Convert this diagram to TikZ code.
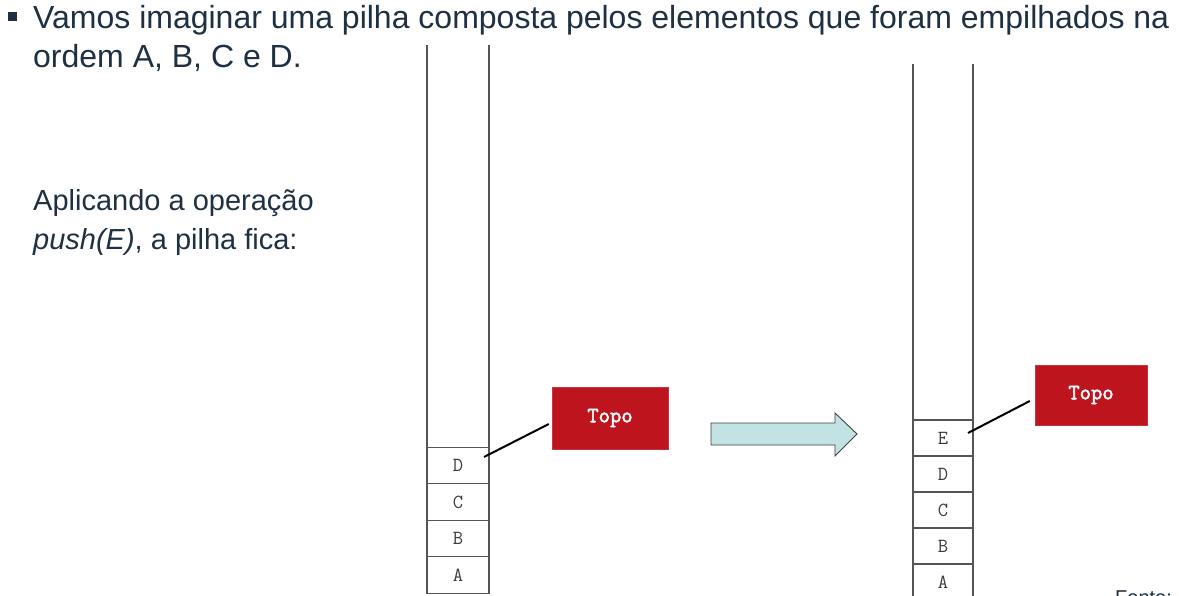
\documentclass[tikz,border=0pt]{standalone}
\usepackage{fontspec}
\setmainfont{Liberation Sans}
\newfontfamily\topofont{Latin Modern Mono}[FakeBold=2.5]
\definecolor{txt}{RGB}{30,48,66}
\definecolor{topored}{RGB}{190,20,30}
\definecolor{arrowfill}{RGB}{194,226,228}
\definecolor{stackline}{RGB}{85,85,85}
\definecolor{celltxt}{RGB}{60,60,60}
\tikzset{
  bodytext/.style={anchor=base west, inner sep=0pt, text=txt, font=\fontsize{32}{38}\selectfont},
  smalltext/.style={bodytext, font=\fontsize{29}{34}\selectfont},
  cell/.style={draw=stackline, line width=1.2pt, minimum width=62pt, minimum height=36.5pt, inner sep=0pt, outer sep=0pt, text=celltxt, font=\ttfamily\fontsize{20}{20}\selectfont},
  cellR/.style={cell, minimum width=60pt, minimum height=36pt},
  topobox/.style={fill=topored, draw=topored!85!white, text=white, inner sep=0pt, font=\topofont\fontsize{22}{22}\selectfont},
  stackwall/.style={draw=stackline, line width=1.2pt},
  pointer/.style={draw=black, line width=2pt},
  blockarrow/.style={fill=arrowfill, draw=black!75, line width=0.9pt, line join=miter}
}
\begin{document}
\begin{tikzpicture}[x=1pt,y=-1pt]
\useasboundingbox (0,0) rectangle (1179,595);
\fill[white] (0,0) rectangle (1179,595);
% bullet and text
\fill[txt] (8,12) rectangle (17,21);
\node[bodytext] (l1) at (33,28) {Vamos imaginar uma pilha composta pelos elementos que foram empilhados na};
\node[bodytext] (l2) at (33,67) {ordem A, B, C e D.};
\node[smalltext] (l3) at (33,210) {Aplicando a operação};
\node[smalltext] (l4) at (33,249) {\textit{push(E)}, a pilha fica:};
% left stack
\node[cell] (LA) at (458,575) {A};
\node[cell, anchor=south] (LB) at (LA.north) {B};
\node[cell, anchor=south] (LC) at (LB.north) {C};
\node[cell, anchor=south] (LD) at (LC.north) {D};
\coordinate (LtopW) at (427,45);
\coordinate (LtopE) at (489,45);
\draw[stackwall] (LtopW) -- (LD.north west);
\draw[stackwall] (LtopE) -- (LD.north east);
\node[topobox, minimum width=116pt, minimum height=62pt] (TL) at (610,418) {Topo};
\coordinate (Lp) at (484,457);
\draw[pointer] (Lp) -- ([xshift=-3pt,yshift=-6pt]TL.west);
% arrow
\path[blockarrow] (711,423) -- (835,423) -- (835,413) -- (857,434) -- (835,456) -- (835,445) -- (711,445) -- cycle;
% right stack
\node[cellR] (RA) at (943,582) {A};
\node[cellR, anchor=south] (RB) at (RA.north) {B};
\node[cellR, anchor=south] (RC) at (RB.north) {C};
\node[cellR, anchor=south] (RD) at (RC.north) {D};
\node[cellR, anchor=south] (RE) at (RD.north) {E};
\coordinate (RtopW) at (913,64);
\coordinate (RtopE) at (973,64);
\draw[stackwall] (RtopW) -- (RE.north west);
\draw[stackwall] (RtopE) -- (RE.north east);
\node[topobox, minimum width=112pt, minimum height=60pt] (TR) at (1091,395) {Topo};
\coordinate (Rp) at (968,433);
\draw[pointer] (Rp) -- ([xshift=-5pt,yshift=-6pt]TR.west);
% source note (cut off by the page edge, as in the reference)
\node[anchor=base west, inner sep=0pt, text=txt, font=\fontsize{20}{24}\selectfont] (src) at (1115,604) {Fonte: li};
\end{tikzpicture}
\end{document}
